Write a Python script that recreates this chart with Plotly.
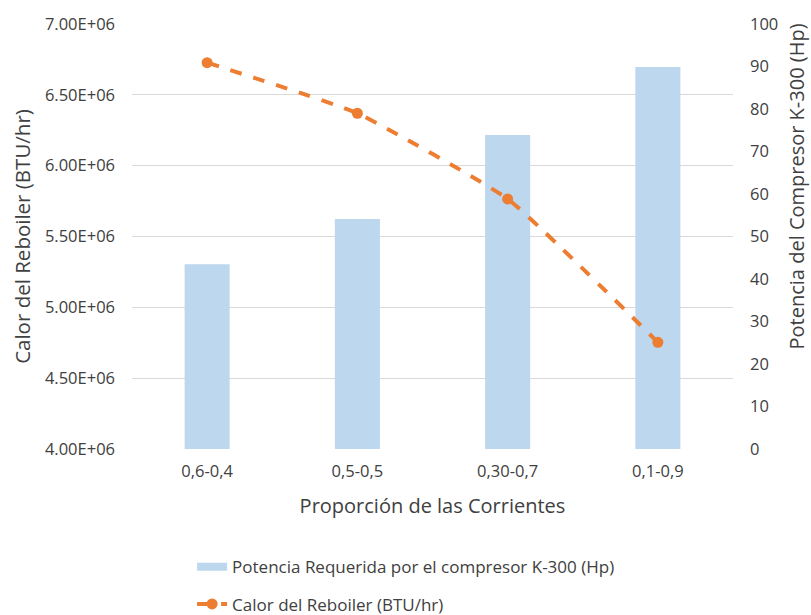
import plotly.graph_objects as go

# Stream split ratios and measured results
categories = ["0,6-0,4", "0,5-0,5", "0,30-0,7", "0,1-0,9"]
compressor_hp = [43.5, 54.1, 73.9, 89.9]
reboiler_btu_hr = [6.727e6, 6.37e6, 5.765e6, 4.753e6]

left_ticks = [4.0e6, 4.5e6, 5.0e6, 5.5e6, 6.0e6, 6.5e6, 7.0e6]
right_ticks = list(range(0, 101, 10))

FONT = "Open Sans"
TEXT = "#404040"
BAR_COLOR = "#BDD7EE"
LINE_COLOR = "#ED7D31"
BAR_NAME = "Potencia Requerida por el compresor K-300 (Hp)"

fig = go.Figure()

# Compressor power bars use the right-hand axis
fig.add_trace(go.Bar(
    x=categories, y=compressor_hp,
    name=BAR_NAME,
    marker=dict(color=BAR_COLOR, line=dict(width=0)),
    width=0.3, yaxis="y", legendgroup="a", showlegend=False,
))
# Legend entry for the bars drawn as a wide flat swatch
fig.add_trace(go.Scatter(
    x=[None], y=[None], mode="lines", name=BAR_NAME,
    line=dict(color=BAR_COLOR, width=8),
    yaxis="y", legendgroup="a",
))

# Reboiler duty line uses the left-hand axis
fig.add_trace(go.Scatter(
    x=categories, y=reboiler_btu_hr,
    name="Calor del Reboiler (BTU/hr)",
    mode="lines+markers",
    line=dict(color=LINE_COLOR, width=4, dash="dash", shape="spline", smoothing=0.4),
    marker=dict(color=LINE_COLOR, size=11),
    yaxis="y2", legendgroup="b",
))

fig.update_layout(
    width=811, height=615,
    margin=dict(l=132, r=78, t=24, b=166, autoexpand=False),
    paper_bgcolor="white", plot_bgcolor="white",
    font=dict(family=FONT, size=16, color=TEXT),
    bargap=0.7,
    showlegend=True,
    legend=dict(
        orientation="v", x=0.10, y=-0.236, xanchor="left", yanchor="top",
        traceorder="grouped", tracegroupgap=12,
        font=dict(family=FONT, size=17, color=TEXT),
    ),
    xaxis=dict(
        showgrid=False, showline=False, ticks="",
        tickfont=dict(size=16.5, color=TEXT), ticklabelstandoff=10,
        title=dict(text="Proporción de las Corrientes",
                   font=dict(size=20, color=TEXT), standoff=18),
    ),
    yaxis=dict(
        side="right", range=[0, 100], tickvals=right_ticks,
        showgrid=False, zeroline=False, showline=False, ticks="",
        tickfont=dict(size=16.5, color=TEXT), ticklabelstandoff=16,
    ),
    yaxis2=dict(
        side="left", overlaying="y", range=[4.0e6, 7.0e6],
        tickvals=left_ticks, ticktext=[f"{v:.2E}" for v in left_ticks],
        showgrid=True, gridcolor="#D9D9D9", gridwidth=1,
        zeroline=False, showline=False, ticks="",
        tickfont=dict(size=16.5, color=TEXT), ticklabelstandoff=16,
        title=dict(text="Calor del Reboiler (BTU/hr)",
                   font=dict(size=20.5, color=TEXT), standoff=8),
    ),
)

# Right-hand axis title, placed above the axis midpoint
fig.add_annotation(
    text="Potencia del Compresor K-300 (Hp)",
    xref="paper", yref="paper", x=1.105, y=0.618,
    xanchor="center", yanchor="middle", textangle=-90,
    showarrow=False, borderpad=0,
    font=dict(family=FONT, size=20, color=TEXT),
)

fig.write_html("out.html")
